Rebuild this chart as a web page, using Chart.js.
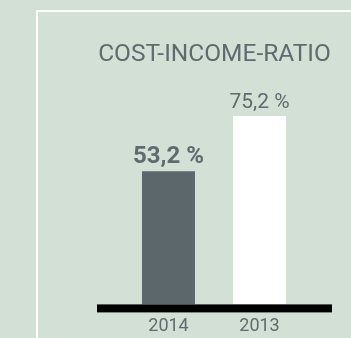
<!DOCTYPE html>
<html>
<head>
<meta charset="utf-8">
<script src="https://cdn.jsdelivr.net/npm/chart.js@4"></script>
<style>
  html, body { margin: 0; padding: 0; background: #d2e0d6; overflow: hidden; }
  #box {
    position: absolute; left: 36px; top: 10px; width: 400px; height: 400px;
    border-left: 2px solid #fff; border-top: 2px solid #fff;
  }
  #wrap { position: absolute; left: 97px; top: 12px; width: 235px; height: 336px; }
</style>
</head>
<body>
<div id="box"></div>
<div id="wrap"><canvas id="c"></canvas></div>
<script>
// Daten
const years = ['2014', '2013'];
const ratio = [53.2, 75.2];
const labelText = ['53,2 %', '75,2 %'];
const barColors = ['#5c676b', '#ffffff'];

const grau = '#5f6b6f';

// Wertbeschriftung über den Balken + schwarze Grundlinie
const extras = {
  id: 'extras',
  afterDatasetsDraw: function(chart) {
    const ctx = chart.ctx;
    const meta = chart.getDatasetMeta(0);
    const y0 = chart.scales.y.getPixelForValue(0);
    ctx.save();
    ctx.fillStyle = '#000';
    ctx.fillRect(0, y0, chart.width, 8);
    ctx.fillStyle = grau;
    ctx.textAlign = 'center';
    ctx.textBaseline = 'alphabetic';
    meta.data.forEach(function(bar, i) {
      ctx.font = i === 0 ? 'bold 24px Roboto' : '21px Roboto';
      ctx.fillText(labelText[i], bar.x, bar.y - 8);
    });
    ctx.restore();
  }
};

// leere Achsen als Rand links/rechts (Titel bleibt volle Breite)
const leer = {
  display: true,
  ticks: { display: false },
  grid: { display: false },
  border: { display: false }
};

new Chart(document.getElementById('c'), {
  type: 'bar',
  data: {
    labels: years,
    datasets: [{
      data: ratio,
      backgroundColor: barColors,
      borderWidth: 0,
      categoryPercentage: 1,
      barPercentage: 0.582
    }]
  },
  options: {
    responsive: true,
    maintainAspectRatio: false,
    animation: false,
    plugins: {
      legend: { display: false },
      tooltip: { enabled: false },
      title: {
        display: true,
        text: 'COST-INCOME-RATIO',
        color: grau,
        font: { family: 'Roboto', size: 24.5, weight: 'normal' },
        padding: { top: 28, bottom: 34.6 }
      }
    },
    scales: {
      x: {
        grid: { display: false, drawTicks: false },
        border: { display: false },
        ticks: { color: grau, font: { family: 'Roboto', size: 18 }, padding: 11 }
      },
      y: Object.assign({}, leer, {
        min: 0,
        max: 80,
        afterFit: function(s) { s.width = 26; }
      }),
      rechts: Object.assign({}, leer, {
        position: 'right',
        afterFit: function(s) { s.width = 27; }
      })
    }
  },
  plugins: [extras]
});
</script>
</body>
</html>
